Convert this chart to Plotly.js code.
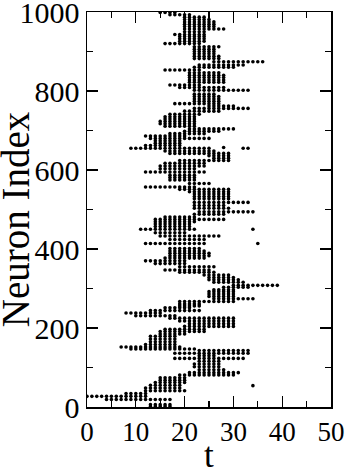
<!DOCTYPE html>
<html>
<head>
<meta charset="utf-8">
<script src="https://cdn.plot.ly/plotly-3.0.1.min.js"></script>
<style>html,body{margin:0;padding:0;background:#fff;}#chart{width:347px;height:469px;}</style>
</head>
<body>
<div id="chart"></div>
<script>
// Raster rows: neuron index of each row and the spike times read on that row
const rowNeuron = [
  1, 6, 19, 27, 34, 41, 48, 55, 62, 68, 74, 81, 87, 94, 102, 109, 116, 123, 130, 136,
  143, 147, 152, 158, 165, 172, 179, 185, 191, 197, 204, 211, 218, 225, 231, 238, 244, 251, 256, 261,
  267, 274, 280, 286, 292, 297, 303, 308, 316, 322, 328, 334, 341, 347, 355, 363, 370, 377, 383, 389,
  395, 401, 414, 424, 433, 441, 450, 457, 463, 469, 475, 481, 488, 494, 503, 510,
  518, 527, 533, 539, 545, 551, 557, 566, 575, 581, 587, 595, 603, 610, 617, 624, 630, 636, 642, 648,
  655, 662, 668, 674, 680, 686, 692, 698, 704, 711, 717, 723, 729, 735, 741, 749, 756, 762, 768, 774,
  780, 786, 792, 802, 809, 815, 822, 828, 834, 840, 846, 853, 860, 866, 874, 882, 888, 894, 900, 906,
  912, 920, 926, 932, 938, 943, 950, 957, 963, 969, 975, 981, 987, 993, 999
];
const rowTimes = [
  [13,14,15,16,17],
  [13,14,15,16,17],
  [4,5,6,7,8,9,10,11,12,13,14,15,16,17],
  [0,1,2,3,4,5,6,7,8,9,10,11,12],
  [8,9,10,11,12],
  [12,13,14,15,16,17,18,19,20],
  [12,13,14,15,16,17,18,19],
  [13,14,15,16,17,18,19],
  [14,15,16,17,18,19,20],
  [15,16,17,18,19,20],
  [15,16,17,18,19,20],
  [19,20,21,22,23,24,25,26,27,28,29,30],
  [21,22,23,24,25,26,27,28,29,30,31],
  [23,24,25,26,27,28],
  [22,23,24,25,26,27],
  [22,23,24,25,26,27],
  [23,24,25,26,27],
  [18,19,20,21,22,23,24,25,26,27,28,29,30,31,32],
  [23,24,25,26],
  [18,19,20,21,22,23,24,25,26,27,28,29,30,31,32,33],
  [23,24,25,26,27,28,29,30,31,32,33],
  [9,10,11,12,13,14,15,16,17,18,19,20,21,22],
  [7,8,9,10,11,12,13,14,15,16,17,18,19],
  [12,13,14,15,16,17,18],
  [13,14,15,16,17,18],
  [13,14,15,16,17,18],
  [13,14,15,16,17,18],
  [15,16,17,18,19,20],
  [15,16,17,18,19,20,21,22,23,24],
  [16,17,18,19,20,21,22,23,24],
  [20,21,22,23,24,25,26,27,28,29,30],
  [21,22,23,24,25,26,27,28,29,30],
  [19,20,21,22,23,24,25,26,27,28,29,30],
  [17,18,19,20,21,22,23,24,25,26,27,28,29,30],
  [10,11,12,13,14,15,16,17,18],
  [8,9,10,11,12,13,14,15],
  [13,14,15,16,17,18,19,20,21,22,23],
  [16,17,18,19,20,21],
  [19,20,21,22,23],
  [19,20,21,22,23],
  [19,20,21,22,23,24,25,26,27,28,29,30],
  [26,27,28,29,30,31,32,33,34],
  [25,26,27,28,29,30],
  [25,26,27,28,29,30],
  [25,26,27,28,29,30],
  [26,27,28,29,30],
  [28,29,30,31,32,33],
  [30,31,32,33,34,35,36,37,38,39],
  [26,27,28,29,30,31,32],
  [25,26,27,28,29,30,31],
  [25,26,27,28,29,30],
  [24,25,26,27,28,29],
  [19,20,21,22,23,24,25,26],
  [16,17,18,19,20,21,22,23,24,25],
  [19,20,21,22,23,24,25,26],
  [14,15,16,17,18,19,20],
  [12,13,14,15,16,17,18,19,20],
  [16,17,18,19,20,21,22,23,24],
  [17,18,19,20,21,22,23,24,25],
  [17,18,19,20,21,22,23,24,25],
  [17,18,19,20,21,22,23,24],
  [17,18,19,20,21,22,23],
  [12,13,14,15,16,17,18,19,20,21,22,23,24],
  [17,18,19,20,21,22,23,24],
  [15,16,17,18,19,20,21,22,23,24,25,26,27],
  [14,15,16,17,18,19,20],
  [11,12,13,14,15,16,17,18,19,20,21,22],
  [14,15,16,17,18,19,20,21],
  [14,15,16,17,18,19,20,21],
  [14,15,16,17,18,19,20,21,22],
  [14,15,16,17,18,19,20,21,22,23,24,25,26,27,28],
  [16,17,18,19,20,21,22],
  [22,23,24,25,26,27,28],
  [23,24,25,26,27,28,29,30,31,32,33,34],
  [22,23,24,25,26,27,28,29],
  [22,23,24,25,26,27,28],
  [22,23,24,25,26,27,28,29,30,31,32,33],
  [22,23,24,25,26,27,28,29],
  [22,23,24,25,26,27,28,29],
  [22,23,24,25,26,27,28,29],
  [21,22,23,24,25,26,27,28,29],
  [19,20,21,22,23,24,25,26,27,28,29],
  [12,13,14,15,16,17,18,19,20,21,22],
  [21,22,23,24,25],
  [17,18,19,20,21,22],
  [17,18,19,20,21,22],
  [17,18,19,20,21,22],
  [12,13,14,15,16,17,18,19,20,21,22,23,24],
  [15,16,17,18,19,20,21,22],
  [15,16,17,18,19,20,21,22,23,24],
  [16,17,18,19,20,21,22,23,24],
  [19,20,21,22,23,24,25,26,27,28,29],
  [26,27,28,29],
  [25,26,27,28,29],
  [17,18,19,20,21,22,23,24,25,26,27,28,29],
  [16,17,18,19,20,21,22,23,24,25,26],
  [9,10,11,12,13,14,15,16,17,18,19,20,21,22,23,24,25],
  [12,13,14,15,16,17,18,19],
  [14,15,16,17,18,19],
  [14,15,16,17,18,19],
  [13,14,15,16,17,18,19,20,21,22,23,24,25],
  [12,13,14,15,16,17,18,19,20],
  [17,18,19,20,21,22,23,24],
  [20,21,22,23,24,25,26,27],
  [21,22,23,24,25,26,27,28,29,30],
  [16,17,18,19,20,21,22],
  [15,16,17,18,19,20,21,22],
  [15,16,17,18,19,20,21,22],
  [16,17,18,19,20,21,22],
  [16,17,18,19,20,21,22],
  [17,18,19,20,21,22,23],
  [20,21,22,23,24,25,26,27],
  [22,23,24,25,26,27,28,29,30,31,32,33],
  [25,26,27,28,29,30],
  [18,19,20,21,22,23,24,25,26,27],
  [22,23,24,25,26,27],
  [22,23,24,25,26,27],
  [22,23,24,25,26,27],
  [22,23,24,25,26],
  [22,23,24,25,26,27,28,29,30,31,32,33],
  [19,20,21,22,23,24,25,26,27,28],
  [17,18,19,20,21,22,23],
  [21,22,23,24,25,26,27,28],
  [21,22,23,24,25,26,27,28],
  [21,22,23,24,25,26,27,28],
  [21,22,23,24,25,26,27,28],
  [21,22,23,24,25,26,27],
  [16,17,18,19,20,21,22,23],
  [22,23,24,25,26,27,28,29,30],
  [23,24,25,26,27,28,29,30,31,32],
  [26,27,28,29,30,31,32,33,34,35,36],
  [22,23,24,25,26,27],
  [22,23,24,25,26,27],
  [22,23,24,25,26],
  [22,23,24,25,26],
  [22,23,24,25,26],
  [22,23,24,25,26,27],
  [16,17,18,19,20,21,22,23],
  [19,20,21,22,23,24],
  [19,20,21,22,23,24],
  [19,20,21,22,23,24],
  [18,19,20,21,22,23,24],
  [20,21,22,23,24],
  [20,21,22,23,24,25,26,27,28],
  [20,21,22,23,24,25,26],
  [20,21,22,23,24,25,26],
  [20,21,22,23,24,25,26],
  [20,21,22,23,24,25],
  [20,21,22,23,24],
  [17,18,19,20,21],
  [15,16,17,18]
];
// Isolated spikes
const strayTime   = [34, 35, 34, 28, 32, 33];
const strayNeuron = [54, 414, 450, 657, 655, 655];

// Tick labels
const xTickVals = [0, 10, 20, 30, 40, 50];
const yTickVals = [0, 200, 400, 600, 800, 1000];

const xs = [], ys = [];
rowNeuron.forEach((n, i) => {
  rowTimes[i].forEach(t => { xs.push(t); ys.push(n); });
});
strayTime.forEach((t, i) => { xs.push(t); ys.push(strayNeuron[i]); });

const font = 'Liberation Serif, Times New Roman, serif';
const trace = {
  x: xs, y: ys, type: 'scatter', mode: 'markers',
  marker: {color: '#000', size: 3.6, line: {width: 0}},
  hoverinfo: 'skip', cliponaxis: true
};
const axisCommon = {
  showgrid: false, zeroline: false, showline: true, linecolor: '#000', linewidth: 1.5,
  mirror: 'allticks', ticks: 'inside', ticklen: 11, tickwidth: 1.3, tickcolor: '#000',
  ticklabeloverflow: 'allow'
};
const layout = {
  width: 347, height: 469,
  margin: {l: 87, r: 16, t: 12, b: 62},
  paper_bgcolor: '#fff', plot_bgcolor: '#fff',
  showlegend: false,
  xaxis: Object.assign({}, axisCommon, {
    range: [0, 50], tickvals: xTickVals, ticktext: xTickVals.map(String),
    tickfont: {family: font, size: 27, color: '#000'},
    minor: {dtick: 5, tick0: 0, ticklen: 6, ticks: 'inside', tickwidth: 1.3, tickcolor: '#000'}
  }),
  yaxis: Object.assign({}, axisCommon, {
    range: [0, 1000], tickvals: yTickVals, ticktext: yTickVals.map(String),
    tickfont: {family: font, size: 30, color: '#000'},
    minor: {dtick: 100, tick0: 0, ticklen: 6, ticks: 'inside', tickwidth: 1.3, tickcolor: '#000'}
  }),
  annotations: [
    {text: 't', xref: 'paper', yref: 'paper', x: 0.502, y: -0.122, xanchor: 'center', yanchor: 'middle',
     showarrow: false, font: {family: font, size: 35, color: '#000'}},
    {text: 'Neuron Index', xref: 'paper', yref: 'paper', x: -0.29, y: 0.476, xanchor: 'center', yanchor: 'middle',
     textangle: -90, showarrow: false, font: {family: font, size: 39, color: '#000'}}
  ]
};
Plotly.newPlot('chart', [trace], layout, {displayModeBar: false, staticPlot: true});
</script>
</body>
</html>
